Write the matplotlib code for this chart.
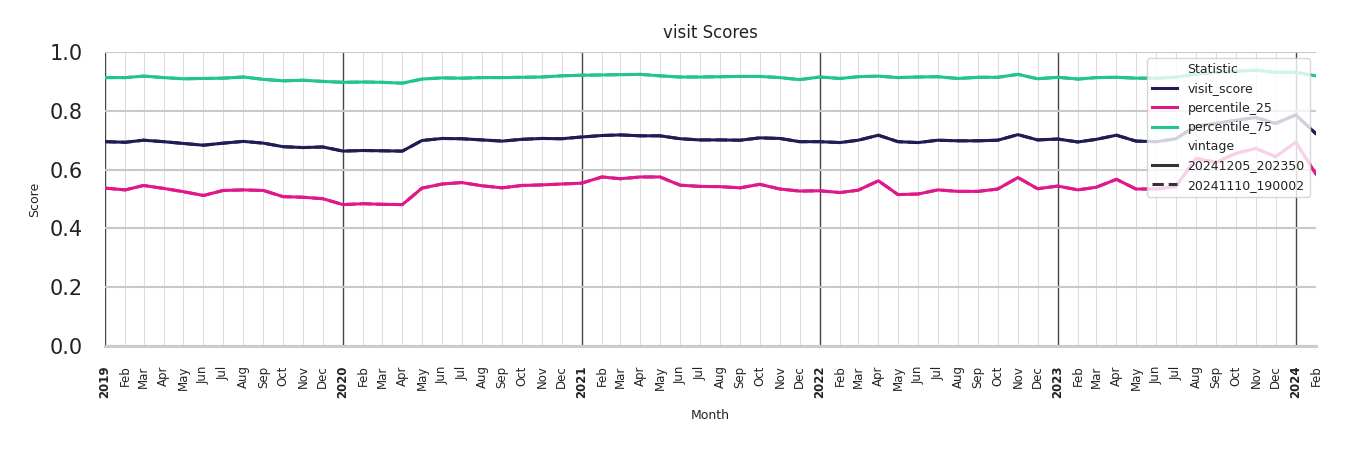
import pandas as pd
import matplotlib
matplotlib.use("Agg")
import matplotlib.pyplot as plt
import matplotlib.dates as mdates
from matplotlib.lines import Line2D


# -----------------------------
# DATA (monthly, Jan 2019 - Feb 2024)
# -----------------------------
months = pd.date_range("2019-01-01", "2024-02-01", freq="MS")

visit_score = [
    0.695, 0.693, 0.700, 0.695, 0.689, 0.683, 0.690, 0.696, 0.690, 0.678, 0.675, 0.677,
    0.663, 0.665, 0.664, 0.663, 0.699, 0.706, 0.705, 0.701, 0.697, 0.703, 0.706, 0.705,
    0.711, 0.716, 0.718, 0.715, 0.715, 0.705, 0.701, 0.701, 0.700, 0.708, 0.706, 0.695,
    0.695, 0.692, 0.700, 0.717, 0.695, 0.692, 0.700, 0.698, 0.698, 0.700, 0.719, 0.701,
    0.704, 0.694, 0.703, 0.717, 0.697, 0.695, 0.705, 0.748, 0.757, 0.768, 0.777, 0.757,
    0.786, 0.722,
]

percentile_25 = [
    0.537, 0.531, 0.546, 0.536, 0.525, 0.512, 0.529, 0.531, 0.529, 0.508, 0.506, 0.501,
    0.481, 0.484, 0.482, 0.481, 0.537, 0.551, 0.556, 0.545, 0.538, 0.546, 0.548, 0.551,
    0.554, 0.575, 0.569, 0.575, 0.575, 0.547, 0.543, 0.542, 0.538, 0.550, 0.534, 0.527,
    0.528, 0.522, 0.530, 0.562, 0.515, 0.517, 0.531, 0.526, 0.526, 0.534, 0.573, 0.535,
    0.544, 0.531, 0.540, 0.567, 0.534, 0.534, 0.542, 0.638, 0.625, 0.655, 0.672, 0.644,
    0.693, 0.585,
]

percentile_75 = [
    0.913, 0.913, 0.918, 0.913, 0.909, 0.910, 0.911, 0.915, 0.907, 0.902, 0.904, 0.900,
    0.897, 0.898, 0.897, 0.894, 0.908, 0.912, 0.911, 0.913, 0.913, 0.914, 0.915, 0.919,
    0.921, 0.922, 0.923, 0.924, 0.919, 0.915, 0.915, 0.916, 0.917, 0.917, 0.913, 0.906,
    0.915, 0.910, 0.916, 0.918, 0.913, 0.915, 0.916, 0.910, 0.914, 0.914, 0.924, 0.909,
    0.914, 0.908, 0.913, 0.914, 0.911, 0.911, 0.914, 0.925, 0.931, 0.935, 0.938, 0.931,
    0.931, 0.919,
]

statistics = ["visit_score", "percentile_25", "percentile_75"]
series = {
    "visit_score": visit_score,
    "percentile_25": percentile_25,
    "percentile_75": percentile_75,
}
colors = {
    "visit_score": "#1e1e55",
    "percentile_25": "#e0198a",
    "percentile_75": "#22c490",
}

# both vintages carry the same values over this window
vintages = ["20241205_202350", "20241110_190002"]
vintage_styles = {"20241205_202350": "-", "20241110_190002": "--"}


# -----------------------------
# PLOT
# -----------------------------
fig = plt.figure(figsize=(13.5, 4.5), dpi=100)
ax = fig.add_axes([0.0778, 0.2311, 0.897, 0.6533])

for vintage in vintages:
    for stat in statistics:
        ax.plot(
            months,
            series[stat],
            color=colors[stat],
            linestyle=vintage_styles[vintage],
            linewidth=2.2,
            zorder=3,
        )

ax.set_xlim(months[0], months[-1])
ax.set_ylim(0, 1.0)
ax.set_yticks([0.0, 0.2, 0.4, 0.6, 0.8, 1.0])

# years as major ticks, months as minor ticks
ax.xaxis.set_major_locator(mdates.YearLocator())
ax.xaxis.set_major_formatter(mdates.DateFormatter("%Y"))
ax.xaxis.set_minor_locator(mdates.MonthLocator(bymonth=range(2, 13)))
ax.xaxis.set_minor_formatter(mdates.DateFormatter("%b"))

ax.tick_params(axis="x", which="both", length=0, pad=14, labelsize=8.5,
               labelrotation=90, colors="#222222")
ax.tick_params(axis="y", length=0, pad=16, labelsize=15, colors="#222222")
for lbl in ax.get_xticklabels(which="major"):
    lbl.set_fontweight("bold")

# grid
ax.grid(axis="y", which="major", color="#c8c8c8", linewidth=1.5, zorder=0)
ax.grid(axis="x", which="minor", color="#dddddd", linewidth=0.8, zorder=0)
ax.grid(axis="x", which="major", color="#444444", linewidth=1.0, zorder=1)
ax.set_axisbelow(True)

for side in ["top", "right", "left"]:
    ax.spines[side].set_visible(False)
ax.spines["bottom"].set_color("#cccccc")
ax.spines["bottom"].set_linewidth(2.2)

ax.set_title("visit Scores", fontsize=12, color="#222222", pad=10)
ax.set_xlabel("Month", fontsize=9, color="#222222", labelpad=8)
ax.set_ylabel("Score", fontsize=9, color="#222222", labelpad=6)

# legend in seaborn's hue/style layout
blank = Line2D([], [], linestyle="none")
handles = [blank]
labels = ["Statistic"]
for stat in statistics:
    handles.append(Line2D([], [], color=colors[stat], linewidth=2.2))
    labels.append(stat)
handles.append(blank)
labels.append("vintage")
for vintage in vintages:
    handles.append(Line2D([], [], color="#333333", linewidth=2.2,
                          linestyle=vintage_styles[vintage]))
    labels.append(vintage)

leg = ax.legend(handles, labels, loc="upper right", fontsize=9,
                framealpha=0.8, edgecolor="#cccccc", fancybox=True)
for txt in leg.get_texts():
    txt.set_color("#222222")

plt.savefig("out.png", dpi=100)
plt.close()
